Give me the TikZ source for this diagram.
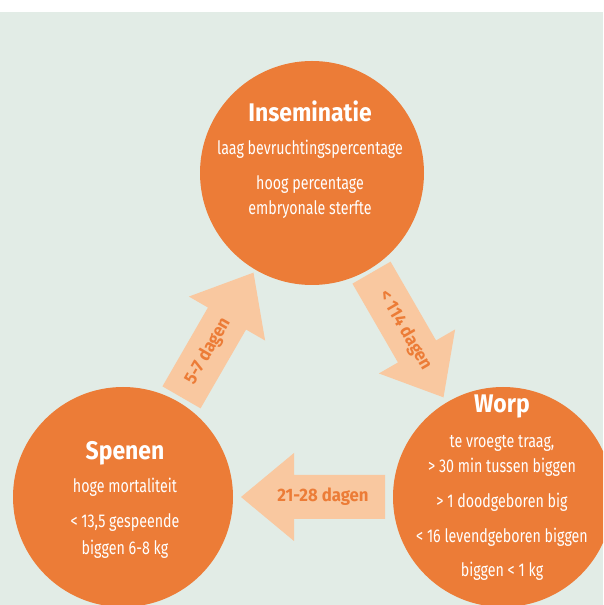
\documentclass[tikz,border=0pt]{standalone}
\usepackage{fontspec}
\setmainfont{Fira Sans}
\newfontfamily\condfont{Fira Sans}[FakeStretch=0.77]
\newfontfamily\headfont{Fira Sans}[FakeStretch=0.9]
\newfontfamily\flowfont{Fira Sans}[FakeStretch=0.93]
\usetikzlibrary{calc}
\definecolor{bggreen}{HTML}{E2ECE6}
\definecolor{phaseorange}{HTML}{EC7C37}
\definecolor{flowpeach}{HTML}{F9C8A0}

\begin{document}
\begin{tikzpicture}[x=1pt, y=1pt,
  phase/.style={circle, fill=phaseorange, inner sep=0pt},
  title/.style={font=\headfont\bfseries\fontsize{25.5}{25.5}\selectfont, text=white, anchor=base},
  body/.style={font=\condfont\fontsize{18.5}{18.5}\selectfont, text=white, anchor=base},
  flowtext/.style={font=\flowfont\bfseries\fontsize{18}{18}\selectfont, text=phaseorange}]
  \useasboundingbox (0,0) rectangle (603,605);
  \clip (0,0) rectangle (603,605);

  % background
  \fill[bggreen] (0,0) rectangle (603,593);

  % the three phases
  \node[phase, minimum size=224pt] (ins) at (312,432) {};
  \node[phase, minimum size=220pt] (spn) at (123,108) {};
  \node[phase, minimum size=220pt] (wrp) at (503,108) {};

  % arrows between phases
  \foreach \a/\b/\ang/\off/\rot/\lab [count=\i] in {spn/ins/60/-19/60/{5-7 dagen},
      ins/wrp/-60/-5/-60/{< 114 dagen}, wrp/spn/180/-10/0/{21-28 dagen}} {
    \begin{scope}[shift={($(\a)!0.5!(\b)$)}, rotate=\ang]
      \fill[flowpeach] (-72,-22) -- (19,-22) -- (19,-44) -- (72,0) -- (19,44) -- (19,22) -- (-72,22) -- cycle;
      \node[flowtext, rotate=\rot] (flow\i) at (\off,0) {\lab};
    \end{scope}
  }

  % texts
  \node[title] (ins-h) at (310,483) {Inseminatie};
  \foreach \yy/\txt [count=\i] in {450/laag bevruchtingspercentage, 415/hoog percentage, 390/embryonale sterfte}
    \node[body] (ins-\i) at (310,\yy) {\txt};

  \node[title] (spn-h) at (125,145) {Spenen};
  \foreach \yy/\txt [count=\i] in {112/hoge mortaliteit, 77/{< 13,5 gespeende}, 50/biggen 6-8 kg}
    \node[body] (spn-\i) at (125,\yy) {\txt};

  \node[title] (wrp-h) at (502,192) {Worp};
  \foreach \yy/\txt [count=\i] in {157/{te vroegte traag,}, 132/{> 30 min tussen biggen}, 97/{> 1 doodgeboren big},
      62/{< 16 levendgeboren biggen}, 28/{biggen < 1 kg}}
    \node[body] (wrp-\i) at (502,\yy) {\txt};
\end{tikzpicture}
\end{document}
